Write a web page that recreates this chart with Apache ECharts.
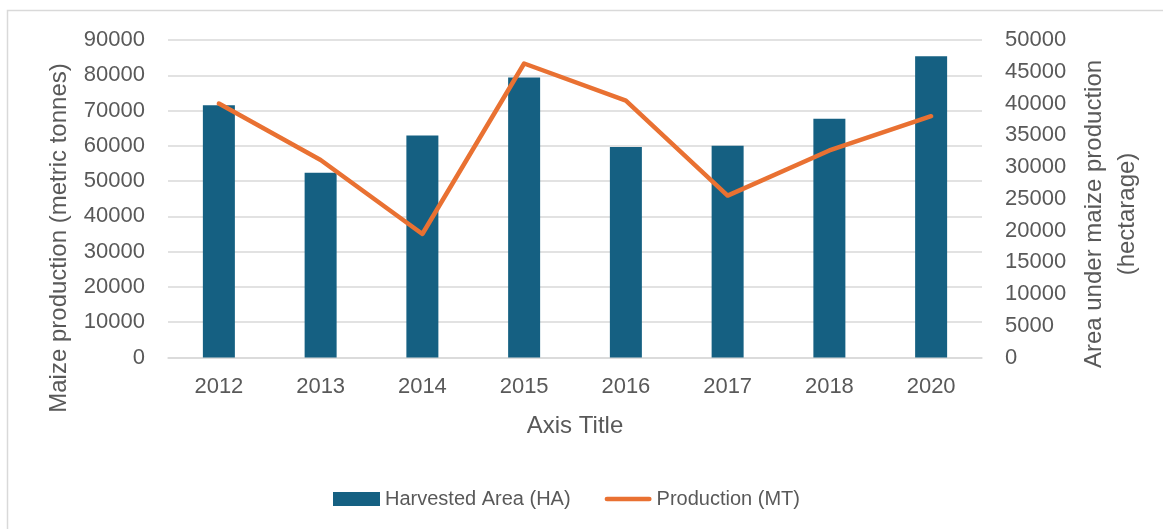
<!DOCTYPE html>
<html>
<head>
<meta charset="utf-8">
<script src="https://cdn.jsdelivr.net/npm/echarts@6/dist/echarts.min.js"></script>
<style>
  html, body { margin: 0; padding: 0; background: #fff; }
  #chart { width: 1163px; height: 529px; }
</style>
</head>
<body>
<div id="chart"></div>
<script>
// data
const years = ['2012', '2013', '2014', '2015', '2016', '2017', '2018', '2020']
const harvestedArea = [71500, 52400, 62900, 79400, 59700, 60000, 67700, 85400]
const production = [40000, 31100, 19450, 46300, 40450, 25500, 32600, 38000]

const textColor = '#595959'
const fontFamily = '"Liberation Sans", Arial, sans-serif'

const myChart = echarts.init(document.getElementById('chart'))

const option = {
    animation: false,
    textStyle: { fontFamily: fontFamily },
    grid: {
        left: 168,
        right: 181,
        top: 40,
        bottom: 171.5,
        containLabel: false
    },
    legend: {
        data: [
            { name: 'Harvested Area (HA)', icon: 'rect' },
            // thin rounded stroke instead of line+dot
            { name: 'Production (MT)', icon: 'path://M2.5,0 L47.5,0 A2.5,2.5 0 0 1 47.5,5 L2.5,5 A2.5,2.5 0 0 1 2.5,0 Z' }
        ],
        left: 328,
        top: 484,
        itemWidth: 47,
        itemHeight: 14,
        itemGap: 34,
        textStyle: { color: textColor, fontSize: 20, fontFamily: fontFamily }
    },
    xAxis: {
        type: 'category',
        data: years,
        axisTick: { show: false },
        axisLine: { lineStyle: { color: '#d9d9d9', width: 1.5 } },
        axisLabel: { color: textColor, fontSize: 22, margin: 18 }
    },
    yAxis: [
        {
            type: 'value',
            min: 0,
            max: 90000,
            interval: 10000,
            axisLine: { show: false },
            axisTick: { show: false },
            axisLabel: { color: textColor, fontSize: 22, margin: 23, formatter: v => String(v) },
            splitLine: { lineStyle: { color: '#d9d9d9', width: 1.5 } }
        },
        {
            type: 'value',
            min: 0,
            max: 50000,
            interval: 5000,
            position: 'right',
            axisLine: { show: false },
            axisTick: { show: false },
            axisLabel: { color: textColor, fontSize: 22, margin: 23, align: 'left', formatter: v => String(v) },
            splitLine: { show: false }
        }
    ],
    series: [
        {
            name: 'Harvested Area (HA)',
            type: 'bar',
            yAxisIndex: 0,
            data: harvestedArea,
            barWidth: 32,
            itemStyle: { color: '#156082' }
        },
        {
            name: 'Production (MT)',
            type: 'line',
            yAxisIndex: 1,
            data: production,
            symbol: 'none',
            lineStyle: { color: '#E97132', width: 4.5, cap: 'round', join: 'round' },
            itemStyle: { color: '#E97132' }
        }
    ],
    graphic: [
        // chart area border (only top/left are visible in the picture)
        {
            type: 'rect',
            shape: { x: 7.5, y: 10.5, width: 1300, height: 700 },
            style: { fill: 'none', stroke: '#d9d9d9', lineWidth: 1.5 },
            silent: true,
            z: -1
        },
        {
            type: 'text',
            x: 59,
            y: 238,
            rotation: Math.PI / 2,
            style: {
                text: 'Maize production (metric tonnes)',
                fill: textColor,
                font: '24px ' + fontFamily,
                textAlign: 'center',
                textVerticalAlign: 'middle'
            }
        },
        {
            type: 'text',
            x: 1111,
            y: 214,
            rotation: Math.PI / 2,
            style: {
                text: 'Area under maize production\n(hectarage)',
                fill: textColor,
                font: '24px ' + fontFamily,
                lineHeight: 33,
                textAlign: 'center',
                textVerticalAlign: 'middle'
            }
        },
        {
            type: 'text',
            x: 575,
            y: 426,
            style: {
                text: 'Axis Title',
                fill: textColor,
                font: '24px ' + fontFamily,
                textAlign: 'center',
                textVerticalAlign: 'middle'
            }
        }
    ]
}

myChart.setOption(option)
window.addEventListener('resize', () => {
    myChart.resize()
})
</script>
</body>
</html>
